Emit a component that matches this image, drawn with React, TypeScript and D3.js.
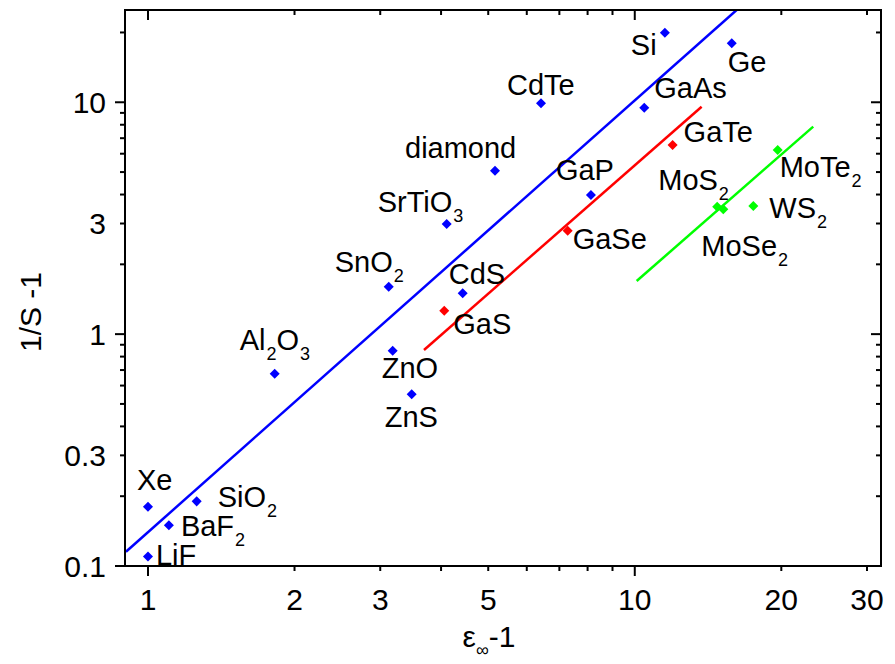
import * as d3 from "d3";

// ε∞-1 and 1/S-1, one set per group
const blueNames = ["Xe", "LiF", "BaF2", "SiO2", "Al2O3", "ZnO", "ZnS", "SnO2", "CdS", "SrTiO3", "diamond", "CdTe", "GaP", "GaAs", "Si", "Ge"];
const blueX = [1.0, 1.0, 1.104, 1.259, 1.821, 3.182, 3.481, 3.123, 4.431, 4.108, 5.163, 6.418, 8.128, 10.46, 11.53, 15.82];
const blueY = [0.180, 0.110, 0.150, 0.190, 0.675, 0.848, 0.550, 1.602, 1.501, 2.987, 5.07, 9.9, 3.983, 9.478, 19.96, 17.97];

const redNames = ["GaS", "GaSe", "GaTe"];
const redX = [4.061, 7.281, 11.96];
const redY = [1.262, 2.794, 6.543];

const greenNames = ["MoS2", "MoSe2", "WS2", "MoTe2"];
const greenX = [14.77, 15.2, 17.52, 19.66];
const greenY = [3.545, 3.455, 3.57, 6.228];

// fitted lines, two end points each
const blueFitX = [0.901, 16.19];
const blueFitY = [0.1152, 25.0];
const redFitX = [3.69, 13.72];
const redFitY = [0.8543, 9.57];
const greenFitX = [10.09, 23.26];
const greenFitY = [1.695, 7.85];

const xTicks = [1, 2, 3, 4, 5, 6, 7, 8, 9, 10, 20, 30];
const xLabels = [1, 2, 3, 5, 10, 20, 30];
const yTicks = [0.1, 0.2, 0.3, 0.4, 0.5, 0.6, 0.7, 0.8, 0.9, 1, 2, 3, 4, 5, 6, 7, 8, 9, 10, 20];
const yLabels = [0.1, 0.3, 1, 3, 10];
const majors = [0.1, 1, 10];

// label offset from marker (px)
const labelOffset: Record<string, [number, number]> = {
  Xe: [-11, -17], LiF: [8, 9], BaF2: [12, 11], SiO2: [21, 6], Al2O3: [-35, -24],
  ZnO: [-11, 27], ZnS: [-27, 33], SnO2: [-54, -15], CdS: [-14, -9], GaS: [9, 23],
  SrTiO3: [-69, -12], diamond: [-90, -13], CdTe: [-34, -8], GaAs: [10, -10],
  Si: [-34, 22], Ge: [-4, 29], GaTe: [11, -3], GaP: [-35, -15], GaSe: [5, 18],
  MoS2: [-59, -17], MoSe2: [-22, 47], WS2: [16, 12], MoTe2: [2, 27],
};

const font = "'Liberation Sans', Arial, sans-serif";
const left = 125, right = 881, top = 10, bottom = 566;

const x = d3.scaleLog().domain([0.897, 32.05]).range([left, right]);
const y = d3.scaleLog().domain([0.1, 25]).range([bottom, top]);

const diamond = d3.symbol(d3.symbolDiamond2, 64)()!;

const Formula = ({ name }: { name: string }) => {
  const parts = name.match(/[0-9]+|[^0-9]+/g) ?? [];
  let shifted = false;
  return (
    <>
      {parts.map((p, i) => {
        const isSub = /[0-9]/.test(p);
        let dy = 0;
        if (isSub && !shifted) { dy = 10; shifted = true; }
        else if (!isSub && shifted) { dy = -10; shifted = false; }
        return (
          <tspan key={i} fontSize={isSub ? 18 : 29} dy={dy} dx={isSub ? 1 : 0}>{p}</tspan>
        );
      })}
    </>
  );
};

const Group = ({ names, xs, ys, color }: { names: string[]; xs: number[]; ys: number[]; color: string }) => (
  <g>
    {names.map((n, i) => {
      const px = x(xs[i]), py = y(ys[i]);
      const [dx, dy] = labelOffset[n];
      return (
        <g key={n}>
          <path d={diamond} transform={`translate(${px},${py})`} fill={color} />
          <text x={px + dx} y={py + dy} fontSize={29} fontFamily={font} fill="#000">
            <Formula name={n} />
          </text>
        </g>
      );
    })}
  </g>
);

const Fit = ({ xs, ys, color }: { xs: number[]; ys: number[]; color: string }) => (
  <line x1={x(xs[0])} y1={y(ys[0])} x2={x(xs[1])} y2={y(ys[1])} stroke={color} strokeWidth={2.5} />
);

export default function App() {
  return (
    <svg width={895} height={664} style={{ position: "absolute", left: 0, top: 0, background: "#fff" }}>
      <defs>
        <clipPath id="plot">
          <rect x={left} y={top} width={right - left} height={bottom - top} />
        </clipPath>
      </defs>

      <g clipPath="url(#plot)">
        <Fit xs={blueFitX} ys={blueFitY} color="#0000ff" />
        <Fit xs={redFitX} ys={redFitY} color="#ff0000" />
        <Fit xs={greenFitX} ys={greenFitY} color="#00ff00" />
      </g>

      {/* ticks */}
      {xTicks.map(t => {
        const len = t === 1 || t === 10 ? 10 : 5;
        return (
          <g key={"x" + t} stroke="#000" strokeWidth={2}>
            <line x1={x(t)} x2={x(t)} y1={bottom} y2={bottom + len} />
            <line x1={x(t)} x2={x(t)} y1={top} y2={top + len} />
          </g>
        );
      })}
      {yTicks.map(t => {
        const len = majors.includes(t) ? 10 : 5;
        return (
          <g key={"y" + t} stroke="#000" strokeWidth={2}>
            <line x1={left - len} x2={left} y1={y(t)} y2={y(t)} />
            <line x1={right - len} x2={right} y1={y(t)} y2={y(t)} />
          </g>
        );
      })}
      <rect x={left} y={top} width={right - left} height={bottom - top} fill="none" stroke="#000" strokeWidth={2} />

      {xLabels.map(t => (
        <text key={"xl" + t} x={x(t)} y={610} textAnchor="middle" fontSize={30} fontFamily={font}>{t}</text>
      ))}
      {yLabels.map(t => (
        <text key={"yl" + t} x={106} y={y(t) + 10.5} textAnchor="end" fontSize={30} fontFamily={font}>{t}</text>
      ))}

      <Group names={blueNames} xs={blueX} ys={blueY} color="#0000ff" />
      <Group names={redNames} xs={redX} ys={redY} color="#ff0000" />
      <Group names={greenNames} xs={greenX} ys={greenY} color="#00ff00" />

      <text x={489} y={647} textAnchor="middle" fontSize={30} fontFamily={font}>
        ε<tspan fontSize={18} dy={9}>∞</tspan><tspan dy={-9}>-1</tspan>
      </text>
      <text transform="translate(41,312) rotate(-90)" textAnchor="middle" fontSize={30} fontFamily={font}>1/S -1</text>
    </svg>
  );
}
